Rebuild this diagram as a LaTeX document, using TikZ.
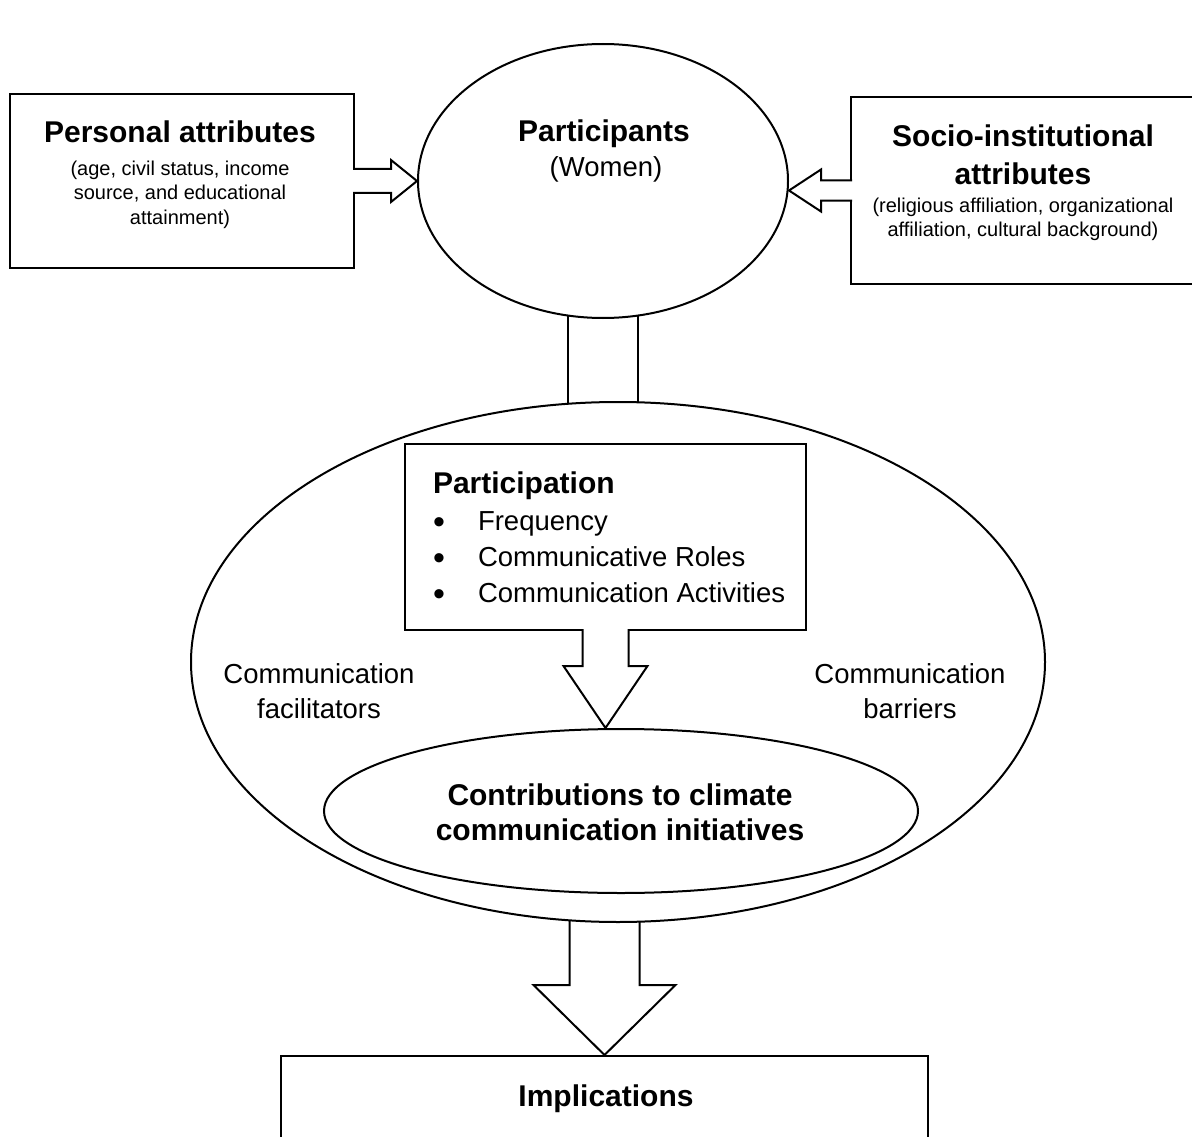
\documentclass[tikz,border=0pt]{standalone}
\usepackage{fontspec}
\setmainfont{Liberation Sans}
\usetikzlibrary{shapes, backgrounds, calc, positioning}
\newcommand{\itemdot}{\makebox[45pt][l]{\smash{\raisebox{-3pt}{\fontsize{34}{34}\selectfont\textbullet}}}}

\begin{document}
\begin{tikzpicture}[x=1pt, y=-1pt, line width=2pt,
  box/.style={draw, rectangle, fill=white, inner sep=0pt},
  oval/.style={draw, ellipse, fill=white, inner sep=0pt},
  headtxt/.style={inner sep=0pt, font=\fontsize{30}{38}\selectfont\bfseries},
  bodytxt/.style={inner sep=0pt, font=\fontsize{27.5}{35}\selectfont},
  smalltxt/.style={inner sep=0pt, font=\fontsize{20}{24.5}\selectfont},
  pipe/.style={draw, line width=2pt},
  fatarrow/.style={draw, fill=white, line width=2pt, line join=miter}]
  \useasboundingbox (0,0) rectangle (1192,1137);

  % shapes
  \node[box, minimum width=344pt, minimum height=173pt] (personal) at (182,181) {};
  \node[box, minimum width=345pt, minimum height=187pt] (socio) at (1023.5,190.5) {};
  \node[oval, minimum width=370pt, minimum height=274pt] (participants) at (603,181) {};
  \node[oval, minimum width=854pt, minimum height=520pt] (field) at (618,662) {};
  \node[box, minimum width=401pt, minimum height=186pt] (participation) at (605.5,537) {};
  \node[oval, minimum width=594pt, minimum height=164pt] (contrib) at (621,811) {};
  \node[box, minimum width=647pt, minimum height=200pt, anchor=north] (implic) at (604.5,1055) {};

  % connectors behind the ovals
  \begin{scope}[on background layer]
    \draw[pipe] ($(participants.center)+(-35,0)$) -- ($(participants.center |- field.center)+(-35,0)$);
    \draw[pipe] ($(participants.center)+(35,0)$) -- ($(participants.center |- field.center)+(35,0)$);
    \draw[fatarrow] ($(implic.north |- field.center)+(-35,0)$) -- ($(implic.north)+(-35,-70)$)
      -- ++(-36,0) -- (implic.north) -- ++(71,-70) -- ++(-36,0) -- ($(implic.north |- field.center)+(35,0)$);
  \end{scope}

  % block arrows
  \draw[fatarrow] ($(personal.east)+(-2,-12)$) -- ++(38,0) -- ++(0,-9) -- (participants.west)
    -- ++(-26,21) -- ++(0,-9) -- ++(-38,0);
  \draw[fatarrow] ($(socio.west)+(2,-10)$) -- ++(-31,0) -- ++(0,-11) -- (participants.east |- socio.west)
    -- ++(32,21) -- ++(0,-11) -- ++(31,0);
  \draw[fatarrow] ($(participation.south)+(-23,-2)$) -- ++(0,37) -- ++(-19,0)
    -- (participation.south |- contrib.north) -- ++(42,-62) -- ++(-19,0) -- ++(0,-37);

  % texts
  \node[headtxt, anchor=base] (personalhead) at (180,143) {Personal attributes};
  \node[smalltxt, align=center, anchor=north] (personaltext) at (180,159.6)
    {(age, civil status, income\\source, and educational\\attainment)};
  \node[headtxt, align=center, anchor=north] (sociohead) at (1023,123.5)
    {Socio-institutional\\attributes};
  \node[smalltxt, align=center, anchor=north] (sociotext) at (1023,196.6)
    {(religious affiliation, organizational\\affiliation, cultural background)};
  \node[headtxt, anchor=base] (participantshead) at (604,142) {Participants};
  \node[bodytxt, anchor=base] (participantssub) at (606,177) {(Women)};
  \node[headtxt, anchor=base west] (participationhead) at (432,493) {Participation};
  \node[bodytxt, font=\fontsize{27.5}{36}\selectfont, align=left, anchor=north west] (participationlist) at (432,510.3)
    {\itemdot Frequency\\\itemdot Communicative Roles\\\itemdot Communication Activities};
  \node[bodytxt, align=center, anchor=north] (facilitators) at (319,662.3) {Communication\\facilitators};
  \node[bodytxt, align=center, anchor=north] (barriers) at (910,662.3) {Communication\\barriers};
  \node[headtxt, font=\fontsize{30}{35}\selectfont\bfseries, align=center, anchor=north] (contribtext) at (620,782.5)
    {Contributions to climate\\communication initiatives};
  \node[headtxt, anchor=base] (implictext) at (606,1106) {Implications};
\end{tikzpicture}
\end{document}
